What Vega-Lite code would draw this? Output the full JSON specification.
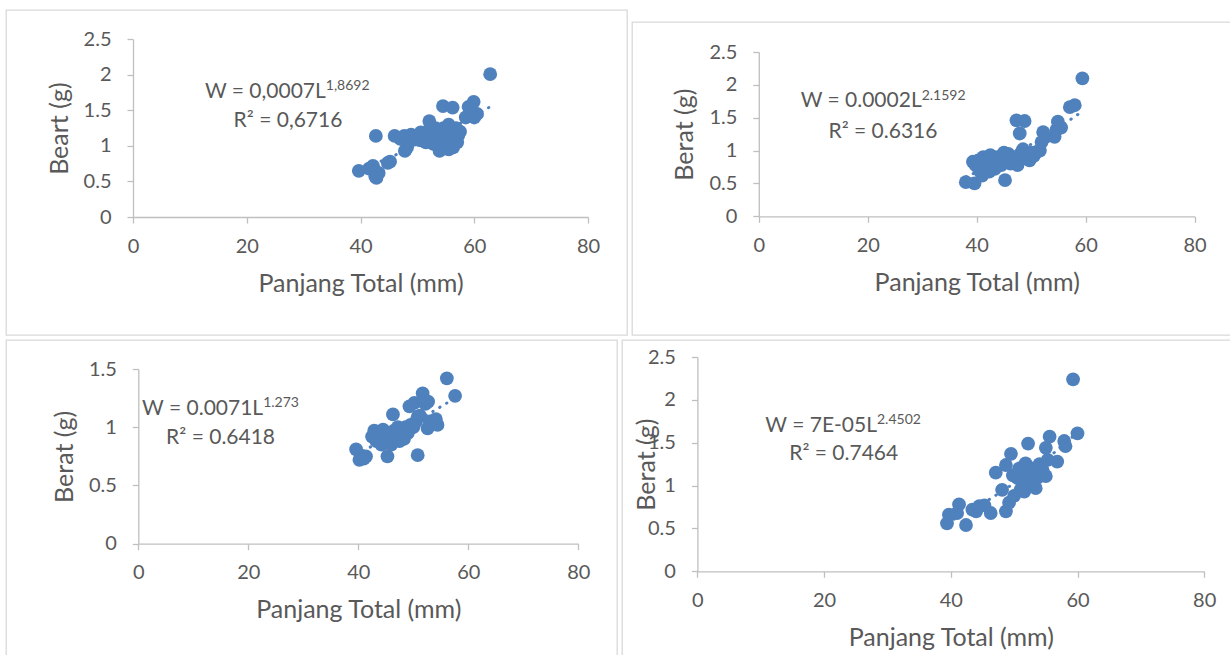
{
  "$schema": "https://vega.github.io/schema/vega-lite/v6.json",
  "background": "white",
  "padding": {"left": 5, "top": 9, "right": 0, "bottom": 0},
  "spacing": 3,
  "config": {
    "view": {"stroke": "#D9D9D9", "strokeWidth": 1.3},
    "concat": {"spacing": 3},
    "axis": {"grid": false, "domainColor": "#BFBFBF", "domainWidth": 1.3, "tickColor": "#BFBFBF", "tickWidth": 1.3, "tickSize": 6, "labelFont": "Lato", "labelFontSize": 20, "labelColor": "#595959", "labelFlush": false, "titleFont": "Lato", "titleFontSize": 25, "titleFontWeight": "normal", "titleColor": "#595959"},
    "axisX": {"labelPadding": 13, "titlePadding": 15},
    "axisY": {"labelPadding": 16, "titlePadding": 11},
    "circle": {"color": "#4F81BD", "size": 190, "opacity": 1},
    "line": {"color": "#4F81BD", "strokeWidth": 3, "strokeDash": [0.5, 7.5], "strokeCap": "round"},
    "text": {"font": "Lato", "color": "#595959"}
  },
  "datasets": {
    "p1": [
      {"L": 39.7, "W": 0.65}, {"L": 41.5, "W": 0.68}, {"L": 42.2, "W": 0.72}, {"L": 42.6, "W": 0.57}, {"L": 43.2, "W": 0.62}, {"L": 42.8, "W": 0.55}, {"L": 44.8, "W": 0.76}, {"L": 45.2, "W": 0.78},
      {"L": 42.7, "W": 1.14}, {"L": 46.0, "W": 1.14}, {"L": 47.0, "W": 1.1}, {"L": 47.7, "W": 1.14}, {"L": 47.8, "W": 0.93}, {"L": 48.2, "W": 0.98}, {"L": 48.9, "W": 1.16}, {"L": 49.5, "W": 1.09},
      {"L": 50.0, "W": 1.13}, {"L": 50.6, "W": 1.19}, {"L": 50.5, "W": 1.08}, {"L": 51.2, "W": 1.12}, {"L": 51.5, "W": 1.05}, {"L": 52.1, "W": 1.35}, {"L": 52.0, "W": 1.22}, {"L": 52.5, "W": 1.15},
      {"L": 53.0, "W": 1.1}, {"L": 53.2, "W": 1.25}, {"L": 53.6, "W": 1.0}, {"L": 53.9, "W": 0.93}, {"L": 54.0, "W": 1.18}, {"L": 54.2, "W": 1.08}, {"L": 54.5, "W": 1.56}, {"L": 54.6, "W": 1.25},
      {"L": 55.0, "W": 1.0}, {"L": 55.2, "W": 1.15}, {"L": 55.5, "W": 1.3}, {"L": 55.8, "W": 1.05}, {"L": 56.2, "W": 1.54}, {"L": 56.0, "W": 1.2}, {"L": 56.5, "W": 1.1}, {"L": 56.8, "W": 1.25},
      {"L": 57.0, "W": 1.05}, {"L": 57.2, "W": 1.15}, {"L": 57.5, "W": 1.2}, {"L": 56.3, "W": 0.98}, {"L": 55.5, "W": 0.95}, {"L": 54.8, "W": 1.1}, {"L": 53.5, "W": 1.2}, {"L": 52.8, "W": 1.03},
      {"L": 58.5, "W": 1.4}, {"L": 59.0, "W": 1.55}, {"L": 59.9, "W": 1.62}, {"L": 60.0, "W": 1.4}, {"L": 60.5, "W": 1.45}, {"L": 62.8, "W": 2.01}
    ],
    "p2": [
      {"L": 38.0, "W": 0.52}, {"L": 39.6, "W": 0.5}, {"L": 39.3, "W": 0.83}, {"L": 39.8, "W": 0.78}, {"L": 40.3, "W": 0.85}, {"L": 40.5, "W": 0.7}, {"L": 41.0, "W": 0.62}, {"L": 41.2, "W": 0.9},
      {"L": 41.8, "W": 0.75}, {"L": 42.0, "W": 0.88}, {"L": 42.3, "W": 0.68}, {"L": 42.5, "W": 0.93}, {"L": 43.0, "W": 0.82}, {"L": 43.3, "W": 0.72}, {"L": 43.8, "W": 0.9}, {"L": 44.2, "W": 0.85},
      {"L": 44.5, "W": 0.78}, {"L": 45.0, "W": 0.97}, {"L": 45.2, "W": 0.55}, {"L": 45.5, "W": 0.88}, {"L": 45.8, "W": 0.95}, {"L": 46.2, "W": 0.8}, {"L": 46.5, "W": 0.9}, {"L": 47.0, "W": 0.85},
      {"L": 47.3, "W": 1.46}, {"L": 47.5, "W": 0.78}, {"L": 47.9, "W": 1.26}, {"L": 48.0, "W": 0.95}, {"L": 48.5, "W": 1.02}, {"L": 48.8, "W": 1.45}, {"L": 49.0, "W": 0.88}, {"L": 49.7, "W": 0.85},
      {"L": 50.0, "W": 0.97}, {"L": 50.5, "W": 0.92}, {"L": 51.0, "W": 0.98}, {"L": 51.6, "W": 1.0}, {"L": 51.9, "W": 1.13}, {"L": 52.2, "W": 1.28}, {"L": 52.5, "W": 1.2}, {"L": 54.3, "W": 1.21},
      {"L": 54.6, "W": 1.31}, {"L": 54.9, "W": 1.44}, {"L": 55.5, "W": 1.35}, {"L": 57.1, "W": 1.66}, {"L": 58.0, "W": 1.69}, {"L": 59.4, "W": 2.1}
    ],
    "p3": [
      {"L": 39.6, "W": 0.81}, {"L": 40.2, "W": 0.72}, {"L": 41.4, "W": 0.75}, {"L": 41.0, "W": 0.73}, {"L": 42.5, "W": 0.92}, {"L": 42.9, "W": 0.97}, {"L": 43.3, "W": 0.88}, {"L": 43.5, "W": 0.95},
      {"L": 44.0, "W": 0.9}, {"L": 44.2, "W": 0.85}, {"L": 44.5, "W": 0.98}, {"L": 44.8, "W": 0.92}, {"L": 45.0, "W": 0.88}, {"L": 45.3, "W": 0.75}, {"L": 45.5, "W": 0.95}, {"L": 45.8, "W": 0.9},
      {"L": 46.0, "W": 0.85}, {"L": 46.3, "W": 1.11}, {"L": 46.5, "W": 0.97}, {"L": 47.0, "W": 0.92}, {"L": 47.2, "W": 1.0}, {"L": 47.5, "W": 0.88}, {"L": 48.0, "W": 0.96}, {"L": 48.3, "W": 0.9},
      {"L": 48.6, "W": 1.0}, {"L": 49.0, "W": 0.95}, {"L": 49.3, "W": 1.18}, {"L": 49.5, "W": 1.02}, {"L": 50.0, "W": 1.0}, {"L": 50.2, "W": 1.21}, {"L": 50.5, "W": 1.05}, {"L": 50.8, "W": 1.09},
      {"L": 50.8, "W": 0.76}, {"L": 51.2, "W": 1.1}, {"L": 51.7, "W": 1.29}, {"L": 52.2, "W": 1.2}, {"L": 52.6, "W": 0.99}, {"L": 52.7, "W": 1.22}, {"L": 53.0, "W": 1.05}, {"L": 54.1, "W": 1.07},
      {"L": 54.4, "W": 1.02}, {"L": 56.1, "W": 1.42}, {"L": 57.6, "W": 1.27}
    ],
    "p4": [
      {"L": 39.4, "W": 0.56}, {"L": 39.7, "W": 0.66}, {"L": 41.0, "W": 0.68}, {"L": 41.3, "W": 0.78}, {"L": 42.4, "W": 0.54}, {"L": 43.4, "W": 0.72}, {"L": 44.0, "W": 0.7}, {"L": 44.5, "W": 0.76},
      {"L": 45.3, "W": 0.77}, {"L": 46.3, "W": 0.68}, {"L": 47.1, "W": 1.15}, {"L": 48.1, "W": 0.95}, {"L": 48.7, "W": 0.7}, {"L": 48.7, "W": 1.24}, {"L": 49.2, "W": 0.8}, {"L": 49.5, "W": 1.37},
      {"L": 49.8, "W": 1.12}, {"L": 50.0, "W": 0.88}, {"L": 50.5, "W": 1.09}, {"L": 50.8, "W": 1.2}, {"L": 51.0, "W": 0.95}, {"L": 51.3, "W": 1.02}, {"L": 51.6, "W": 0.93}, {"L": 51.8, "W": 1.26},
      {"L": 52.0, "W": 1.12}, {"L": 52.2, "W": 1.49}, {"L": 52.5, "W": 1.05}, {"L": 52.9, "W": 1.15}, {"L": 53.0, "W": 1.2}, {"L": 53.4, "W": 0.97}, {"L": 53.8, "W": 1.1}, {"L": 54.0, "W": 1.25},
      {"L": 54.5, "W": 1.18}, {"L": 55.0, "W": 1.11}, {"L": 55.0, "W": 1.44}, {"L": 55.3, "W": 1.3}, {"L": 55.6, "W": 1.57}, {"L": 56.8, "W": 1.28}, {"L": 57.9, "W": 1.52}, {"L": 58.1, "W": 1.46},
      {"L": 59.3, "W": 2.24}, {"L": 60.0, "W": 1.61}
    ]
  },
  "vconcat": [
    {
      "hconcat": [
        {
          "width": 621, "height": 325,
          "layer": [
            {"data": {"name": "p1"}, "mark": {"type": "circle"},
             "encoding": {
               "x": {"field": "L", "type": "quantitative", "scale": {"domain": [0, 80], "range": [127, 582], "nice": false}, "axis": {"values": [0, 20, 40, 60, 80], "title": "Panjang Total (mm)", "offset": -118}},
               "y": {"field": "W", "type": "quantitative", "scale": {"domain": [0, 2.5], "range": [207, 29.3], "nice": false}, "axis": {"values": [0, 0.5, 1, 1.5, 2, 2.5], "format": "~g", "title": "Beart (g)", "offset": -127}}
             }},
            {"data": {"name": "p1"}, "transform": [{"regression": "W", "on": "L", "method": "pow"}], "mark": {"type": "line"},
             "encoding": {"x": {"field": "L", "type": "quantitative", "title": "Panjang Total (mm)"}, "y": {"field": "W", "type": "quantitative", "title": "Beart (g)"}}},
            {"data": {"values": [{}]}, "mark": {"type": "text", "align": "right", "baseline": "middle", "fontSize": 21, "text": "W = 0,0007L"}, "encoding": {"x": {"datum": 33.9, "type": "quantitative", "title": "Panjang Total (mm)"}, "y": {"datum": 1.765, "type": "quantitative", "title": "Beart (g)"}}},
            {"data": {"values": [{}]}, "mark": {"type": "text", "align": "left", "baseline": "middle", "fontSize": 14, "dy": -5.5, "text": "1,8692"}, "encoding": {"x": {"datum": 33.9, "type": "quantitative", "title": "Panjang Total (mm)"}, "y": {"datum": 1.765, "type": "quantitative", "title": "Beart (g)"}}},
            {"data": {"values": [{}]}, "mark": {"type": "text", "align": "center", "baseline": "middle", "fontSize": 21, "text": "R² = 0,6716"}, "encoding": {"x": {"datum": 27.25, "type": "quantitative", "title": "Panjang Total (mm)"}, "y": {"datum": 1.35, "type": "quantitative", "title": "Beart (g)"}}}
          ]
        },
        {
          "spacing": 3,
          "vconcat": [
            {"width": 600, "height": 8, "view": {"stroke": null}, "data": {"values": []}, "mark": {"type": "point"}, "encoding": {}},
            {
              "width": 600, "height": 313,
              "layer": [
                {"data": {"name": "p2"}, "mark": {"type": "circle"},
                 "encoding": {
                   "x": {"field": "L", "type": "quantitative", "scale": {"domain": [0, 80], "range": [126.8, 562.6], "nice": false}, "axis": {"values": [0, 20, 40, 60, 80], "title": "Panjang Total (mm)", "offset": -118.7}},
                   "y": {"field": "W", "type": "quantitative", "scale": {"domain": [0, 2.5], "range": [194.3, 30], "nice": false}, "axis": {"values": [0, 0.5, 1, 1.5, 2, 2.5], "format": "~g", "title": "Berat (g)", "offset": -126.8}}
                 }},
                {"data": {"name": "p2"}, "transform": [{"regression": "W", "on": "L", "method": "pow"}], "mark": {"type": "line"},
                 "encoding": {"x": {"field": "L", "type": "quantitative", "title": "Panjang Total (mm)"}, "y": {"field": "W", "type": "quantitative", "title": "Berat (g)"}}},
                {"data": {"values": [{}]}, "mark": {"type": "text", "align": "right", "baseline": "middle", "fontSize": 21, "text": "W = 0.0002L"}, "encoding": {"x": {"datum": 29.9, "type": "quantitative", "title": "Panjang Total (mm)"}, "y": {"datum": 1.75, "type": "quantitative", "title": "Berat (g)"}}},
                {"data": {"values": [{}]}, "mark": {"type": "text", "align": "left", "baseline": "middle", "fontSize": 14, "dy": -5.5, "text": "2.1592"}, "encoding": {"x": {"datum": 29.9, "type": "quantitative", "title": "Panjang Total (mm)"}, "y": {"datum": 1.75, "type": "quantitative", "title": "Berat (g)"}}},
                {"data": {"values": [{}]}, "mark": {"type": "text", "align": "center", "baseline": "middle", "fontSize": 21, "text": "R² = 0.6316"}, "encoding": {"x": {"datum": 22.8, "type": "quantitative", "title": "Panjang Total (mm)"}, "y": {"datum": 1.29, "type": "quantitative", "title": "Berat (g)"}}}
              ]
            }
          ]
        }
      ]
    },
    {
      "hconcat": [
        {
          "width": 611, "height": 317,
          "layer": [
            {"data": {"name": "p3"}, "mark": {"type": "circle"},
             "encoding": {
               "x": {"field": "L", "type": "quantitative", "scale": {"domain": [0, 80], "range": [132.3, 572.3], "nice": false}, "axis": {"values": [0, 20, 40, 60, 80], "title": "Panjang Total (mm)", "offset": -113.3}},
               "y": {"field": "W", "type": "quantitative", "scale": {"domain": [0, 1.5], "range": [203.7, 29], "nice": false}, "axis": {"values": [0, 0.5, 1, 1.5], "format": "~g", "title": "Berat (g)", "offset": -132.3}}
             }},
            {"data": {"name": "p3"}, "transform": [{"regression": "W", "on": "L", "method": "pow"}], "mark": {"type": "line"},
             "encoding": {"x": {"field": "L", "type": "quantitative", "title": "Panjang Total (mm)"}, "y": {"field": "W", "type": "quantitative", "title": "Berat (g)"}}},
            {"data": {"values": [{}]}, "mark": {"type": "text", "align": "right", "baseline": "middle", "fontSize": 21, "text": "W = 0.0071L"}, "encoding": {"x": {"datum": 22.7, "type": "quantitative", "title": "Panjang Total (mm)"}, "y": {"datum": 1.16, "type": "quantitative", "title": "Berat (g)"}}},
            {"data": {"values": [{}]}, "mark": {"type": "text", "align": "left", "baseline": "middle", "fontSize": 14, "dy": -5.5, "text": "1.273"}, "encoding": {"x": {"datum": 22.7, "type": "quantitative", "title": "Panjang Total (mm)"}, "y": {"datum": 1.16, "type": "quantitative", "title": "Berat (g)"}}},
            {"data": {"values": [{}]}, "mark": {"type": "text", "align": "center", "baseline": "middle", "fontSize": 21, "text": "R² = 0.6418"}, "encoding": {"x": {"datum": 14.96, "type": "quantitative", "title": "Panjang Total (mm)"}, "y": {"datum": 0.908, "type": "quantitative", "title": "Berat (g)"}}}
          ]
        },
        {
          "width": 612, "height": 317,
          "layer": [
            {"data": {"name": "p4"}, "mark": {"type": "circle"},
             "encoding": {
               "x": {"field": "L", "type": "quantitative", "scale": {"domain": [0, 80], "range": [75.4, 582.2], "nice": false}, "axis": {"values": [0, 20, 40, 60, 80], "title": "Panjang Total (mm)", "offset": -85.7}},
               "y": {"field": "W", "type": "quantitative", "scale": {"domain": [0, 2.5], "range": [231.3, 17], "nice": false}, "axis": {"values": [0, 0.5, 1, 1.5, 2, 2.5], "format": "~g", "title": "Berat (g)", "offset": -75.4, "titlePadding": -12}}
             }},
            {"data": {"name": "p4"}, "transform": [{"regression": "W", "on": "L", "method": "pow"}], "mark": {"type": "line"},
             "encoding": {"x": {"field": "L", "type": "quantitative", "title": "Panjang Total (mm)"}, "y": {"field": "W", "type": "quantitative", "title": "Berat (g)"}}},
            {"data": {"values": [{}]}, "mark": {"type": "text", "align": "right", "baseline": "middle", "fontSize": 21, "text": "W = 7E-05L"}, "encoding": {"x": {"datum": 28.35, "type": "quantitative", "title": "Panjang Total (mm)"}, "y": {"datum": 1.7, "type": "quantitative", "title": "Berat (g)"}}},
            {"data": {"values": [{}]}, "mark": {"type": "text", "align": "left", "baseline": "middle", "fontSize": 14, "dy": -5.5, "text": "2.4502"}, "encoding": {"x": {"datum": 28.35, "type": "quantitative", "title": "Panjang Total (mm)"}, "y": {"datum": 1.7, "type": "quantitative", "title": "Berat (g)"}}},
            {"data": {"values": [{}]}, "mark": {"type": "text", "align": "center", "baseline": "middle", "fontSize": 21, "text": "R² = 0.7464"}, "encoding": {"x": {"datum": 23.1, "type": "quantitative", "title": "Panjang Total (mm)"}, "y": {"datum": 1.37, "type": "quantitative", "title": "Berat (g)"}}}
          ]
        }
      ]
    }
  ]
}
